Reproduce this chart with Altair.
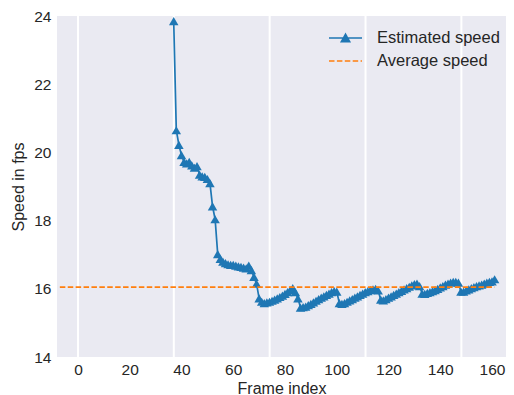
import altair as alt
import pandas as pd

# ---- data ----
frames = list(range(37, 162))
speeds = [
    23.85, 20.65, 20.22, 19.92, 19.72, 19.68, 19.72, 19.62, 19.55, 19.60,  # 37-46
    19.35, 19.30, 19.28, 19.22, 19.10, 18.42, 18.04, 17.02, 16.88, 16.80,  # 47-56
    16.75, 16.72, 16.70, 16.70, 16.68, 16.66, 16.64, 16.62, 16.60, 16.68,  # 57-66
    16.55, 16.35, 16.15, 15.72, 15.62, 15.58, 15.60, 15.62, 15.65, 15.68,  # 67-76
    15.72, 15.76, 15.80, 15.85, 15.90, 15.96, 16.02, 15.90, 15.72, 15.45,  # 77-86
    15.46, 15.48, 15.52, 15.56, 15.60, 15.65, 15.70, 15.74, 15.78, 15.82,  # 87-96
    15.86, 15.90, 15.93, 15.92, 15.58, 15.56, 15.58, 15.62, 15.66, 15.70,  # 97-106
    15.74, 15.78, 15.82, 15.86, 15.90, 15.93, 15.96, 15.98, 16.00, 15.95,  # 107-116
    15.68, 15.66, 15.70, 15.74, 15.78, 15.82, 15.86, 15.90, 15.94, 15.98,  # 117-126
    16.02, 16.06, 16.10, 16.14, 16.15, 16.08, 15.86, 15.85, 15.88, 15.90,  # 127-136
    15.93, 15.96, 16.00, 16.04, 16.08, 16.12, 16.15, 16.18, 16.20, 16.20,  # 137-146
    16.18, 15.92, 15.92, 15.95, 15.98, 16.02, 16.05, 16.08, 16.10, 16.12,  # 147-156
    16.15, 16.18, 16.20, 16.22, 16.28,                                      # 157-161
]
avg_frames = [-7, 161]
avg_speed = 16.05
grid_frames = [0, 37.04, 74.08, 111.12, 148.16]
x_ticks = [0, 20, 40, 60, 80, 100, 120, 140, 160]
y_ticks = [14, 16, 18, 20, 22, 24]
series = ["Estimated speed", "Average speed"]

BLUE = "#1f77b4"
ORANGE = "#ff7f0e"
TEXT = "#262626"
FONT = "Liberation Sans"

est = pd.DataFrame({"frame": frames, "speed": speeds})
avg = pd.DataFrame({"frame": avg_frames, "speed": [avg_speed] * len(avg_frames)})
leg = pd.DataFrame({"frame": avg_frames, "speed": [avg_speed] * 2, "series": series})
grid = pd.DataFrame({"frame": grid_frames})

xscale = alt.Scale(domain=[-8.1, 165.4], nice=False, zero=False)
yscale = alt.Scale(domain=[14, 24], nice=False, zero=False)

xaxis = alt.Axis(values=x_ticks, title="Frame index", grid=False, domain=False, ticks=False,
                 labelPadding=5, titlePadding=3, labelFlush=False, format="d")
yaxis = alt.Axis(values=y_ticks, title="Speed in fps", grid=False, domain=False, ticks=False,
                 labelPadding=6, titlePadding=7, labelFlush=False, format="d")

X = alt.X("frame:Q", scale=xscale, axis=xaxis)
Y = alt.Y("speed:Q", scale=yscale, axis=yaxis)

gridlines = alt.Chart(grid).mark_rule(color="white", strokeWidth=2).encode(
    x=alt.X("frame:Q", scale=xscale, axis=xaxis)
)

line = alt.Chart(est).mark_line(color=BLUE, strokeWidth=1.7).encode(x=X, y=Y)
pts = alt.Chart(est).mark_point(shape="triangle-up", filled=True, color=BLUE,
                                size=90, opacity=1).encode(x=X, y=Y)
avg_line = alt.Chart(avg).mark_line(color=ORANGE, strokeWidth=1.6,
                                    strokeDash=[5.5, 2.4]).encode(x=X, y=Y)

sym_est = "M-1.65,0H1.65M-0.42,0.38L0,-0.38L0.42,0.38Z"
sym_avg = "M-1.65,0H1.65"
legend_layer = alt.Chart(leg).mark_point(filled=True, opacity=0).encode(
    x=X, y=Y,
    fill=alt.Fill("series:N", scale=alt.Scale(domain=series, range=[BLUE, ORANGE]), title=None),
    stroke=alt.Stroke("series:N", scale=alt.Scale(domain=series, range=[BLUE, ORANGE]), title=None),
    shape=alt.Shape("series:N", scale=alt.Scale(domain=series, range=[sym_est, sym_avg]), title=None),
    strokeDash=alt.StrokeDash("series:N", scale=alt.Scale(domain=series, range=[[1, 0], [5.5, 2.4]]), title=None),
)

chart = alt.layer(gridlines, line, pts, avg_line, legend_layer).properties(
    width=449, height=341,
    autosize=alt.AutoSizeParams(type="none"),
    padding={"left": 49, "top": 8, "right": 0, "bottom": 38},
).configure_view(
    fill="#EAEAF2", stroke=None
).configure_axis(
    labelFont=FONT, titleFont=FONT, labelFontSize=15.5, titleFontSize=16,
    labelColor=TEXT, titleColor=TEXT, titleFontWeight="normal"
).configure_legend(
    orient="none", legendX=277.5, legendY=11, padding=0,
    labelFont=FONT, labelFontSize=16.5, labelColor=TEXT,
    symbolSize=400, symbolStrokeWidth=1.6, symbolOpacity=1,
    labelOffset=20.5, rowPadding=3
)

chart.save("out.html", embed_options={"renderer": "svg", "actions": False})
